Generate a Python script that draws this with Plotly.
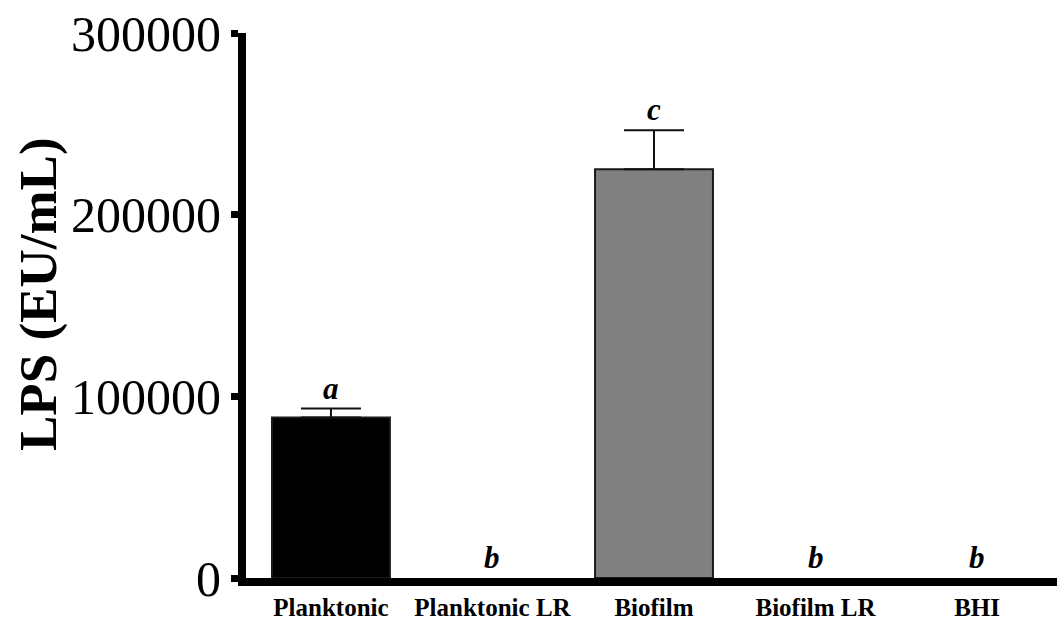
import plotly.graph_objects as go

categories = ["Planktonic", "Planktonic LR", "Biofilm", "Biofilm LR", "BHI"]
lps_values = [88300, 0, 225000, 0, 0]
lps_error = [5000, 0, 21400, 0, 0]
letters = ["a", "b", "c", "b", "b"]
bar_colors = ["#000000", "#000000", "#808080", "#808080", "#808080"]
y_ticks = [0, 100000, 200000, 300000]
y_title = "LPS (EU/mL)"

SERIF = "Liberation Serif, Times New Roman, serif"

# zero-valued groups draw no bar and no error bar
plot_y = [v if v else None for v in lps_values]
plot_err = [e if v else None for v, e in zip(lps_values, lps_error)]
outline_widths = [0 if v == 0 else 2 for v in lps_values]

fig = go.Figure()
fig.add_trace(go.Bar(
    x=categories,
    y=plot_y,
    width=0.73,
    marker=dict(color=bar_colors, line=dict(color="#1a1a1a", width=outline_widths)),
    error_y=dict(type="data", array=plot_err, symmetric=False,
                 arrayminus=[0] * len(lps_values),
                 color="#111111", thickness=2, width=30),
    showlegend=False,
))

for cat, v, e, lab in zip(categories, lps_values, lps_error, letters):
    top = v + e
    fig.add_annotation(
        x=cat, y=top, xref="x", yref="y", text=f"<b><i>{lab}</i></b>",
        showarrow=False, yanchor="bottom", yshift=1,
        font=dict(family=SERIF, size=31, color="black"),
    )

fig.add_annotation(
    x=-0.2565, y=0.521, xref="paper", yref="paper",
    text=f"<b>{y_title}</b>", textangle=-90, showarrow=False,
    xanchor="center", yanchor="middle",
    font=dict(family=SERIF, size=53, color="black"),
)

fig.update_layout(
    width=1057, height=621,
    margin=dict(l=246, r=0, t=33, b=41),
    plot_bgcolor="white", paper_bgcolor="white",
)
fig.update_xaxes(
    type="category",
    range=[-0.526, 4.495],
    showline=True, linecolor="black", linewidth=8,
    ticks="", showgrid=False, zeroline=False,
    tickfont=dict(family=SERIF, size=25, color="black", weight="bold"),
)
fig.update_yaxes(
    range=[0, 300000],
    tickvals=y_ticks, ticktext=[str(t) for t in y_ticks],
    showline=True, linecolor="black", linewidth=8,
    ticks="outside", ticklen=7, tickwidth=7, tickcolor="black",
    showgrid=False, zeroline=False,
    tickfont=dict(family=SERIF, size=50, color="black"),
)

fig.write_html("out.html")
